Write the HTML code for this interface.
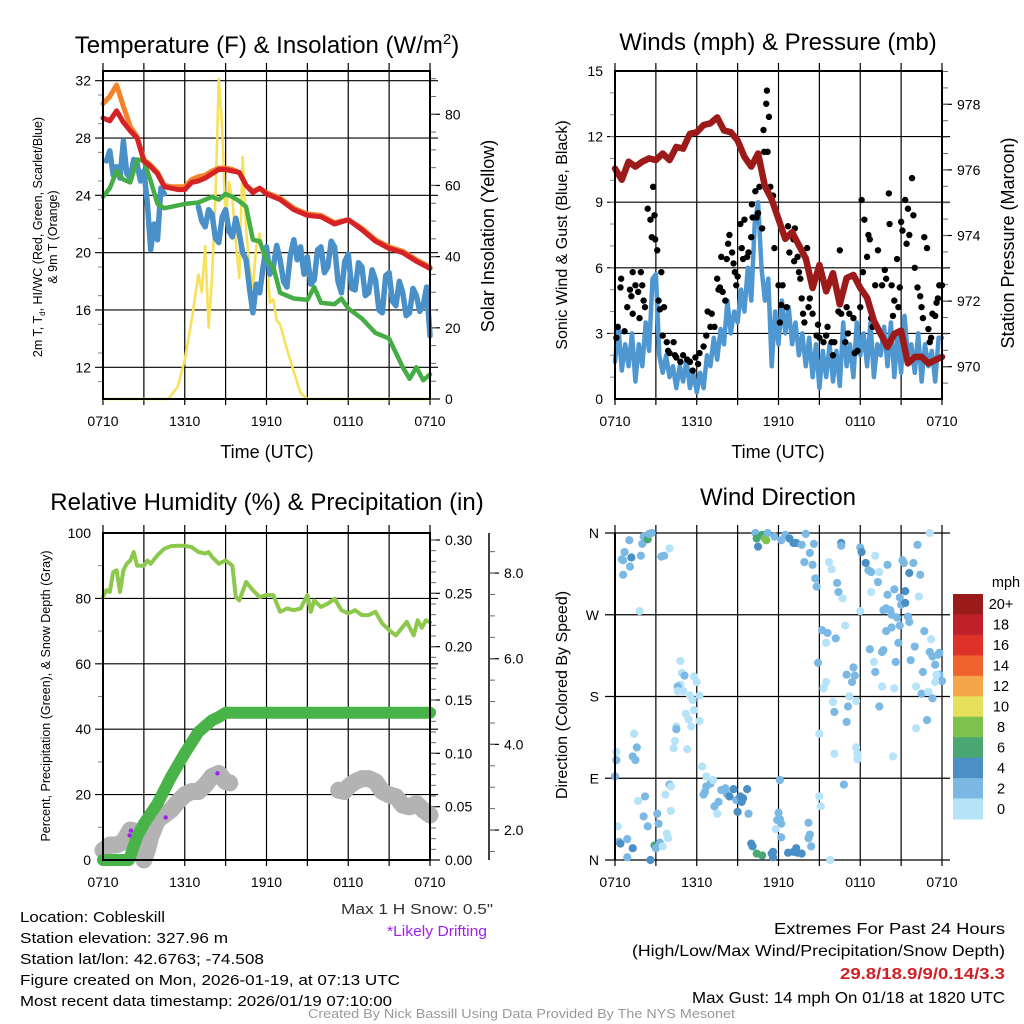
<!DOCTYPE html>
<html><head><meta charset="utf-8"><style>
html,body{margin:0;padding:0;background:#fff;}
svg{display:block;font-family:"Liberation Sans",sans-serif;}
</style></head><body>
<svg id="chart" width="1024" height="1024" viewBox="0 0 1024 1024" xmlns="http://www.w3.org/2000/svg">
<rect width="1024" height="1024" fill="#fff"/>
<g id="layer"></g>
<g font-size="24" fill="#000" text-anchor="middle">
<text x="267" y="53">Temperature (F) &amp; Insolation (W/m<tspan dy="-9" font-size="15">2</tspan><tspan dy="9">)</tspan></text>
<text x="778" y="50">Winds (mph) &amp; Pressure (mb)</text>
<text x="267" y="510">Relative Humidity (%) &amp; Precipitation (in)</text>
<text x="778" y="505">Wind Direction</text>
</g>
<g font-size="18" text-anchor="middle">
<text x="267" y="458">Time (UTC)</text>
<text x="778" y="458">Time (UTC)</text>
<text transform="translate(494,236) rotate(-90)">Solar Insolation (Yellow)</text>
<text transform="translate(1014,243) rotate(-90)">Station Pressure (Maroon)</text>
<text font-size="16" transform="translate(567,235) rotate(-90)">Sonic Wind &amp; Gust (Blue, Black)</text>
<text font-size="16" transform="translate(567,695) rotate(-90)">Direction (Colored By Speed)</text>
<text font-size="12.5" transform="translate(42,237) rotate(-90)">2m T, T<tspan font-size="8" dy="3">d</tspan><tspan dy="-3">, HI/WC (Red, Green, Scarlet/Blue)</tspan></text>
<text font-size="12.5" transform="translate(57,237) rotate(-90)">&amp; 9m T (Orange)</text>
<text font-size="12.5" transform="translate(50,696) rotate(-90)">Percent, Precipitation (Green), &amp; Snow Depth (Gray)</text>
</g>
<g font-size="14.5">
<text x="20" y="922" textLength="145" lengthAdjust="spacingAndGlyphs">Location: Cobleskill</text>
<text x="20" y="943" textLength="208" lengthAdjust="spacingAndGlyphs">Station elevation: 327.96 m</text>
<text x="20" y="964" textLength="244" lengthAdjust="spacingAndGlyphs">Station lat/lon: 42.6763; -74.508</text>
<text x="20" y="985" textLength="380" lengthAdjust="spacingAndGlyphs">Figure created on Mon, 2026-01-19, at 07:13 UTC</text>
<text x="20" y="1006" textLength="372" lengthAdjust="spacingAndGlyphs">Most recent data timestamp: 2026/01/19 07:10:00</text>
<text x="341" y="914" fill="#333" textLength="152" lengthAdjust="spacingAndGlyphs">Max 1 H Snow: 0.5"</text>
<text x="387" y="936" fill="#a020f0" textLength="100" lengthAdjust="spacingAndGlyphs">*Likely Drifting</text>
<text x="774" y="934" font-size="16" textLength="231" lengthAdjust="spacingAndGlyphs">Extremes For Past 24 Hours</text>
<text x="632" y="956" font-size="16" textLength="373" lengthAdjust="spacingAndGlyphs">(High/Low/Max Wind/Precipitation/Snow Depth)</text>
<text x="840" y="979" font-size="16" font-weight="bold" fill="#d02027" textLength="165" lengthAdjust="spacingAndGlyphs">29.8/18.9/9/0.14/3.3</text>
<text x="692" y="1003" font-size="16" textLength="313" lengthAdjust="spacingAndGlyphs">Max Gust: 14 mph On 01/18 at 1820 UTC</text>
<text x="308" y="1018" font-size="12.5" fill="#999" textLength="427" lengthAdjust="spacingAndGlyphs">Created By Nick Bassill Using Data Provided By The NYS Mesonet</text>
</g>
</svg>
<script>
// ---------- Panel 1 data (hours since 0710 UTC) ----------
const tempTimes = [0,0.5,1,1.5,2,2.5,3,3.5,4,4.5,5,5.5,6,6.5,7,7.5,8,8.5,9,9.5,10,10.5,11,11.5,12,13,14,15,16,17,18,19,20,21,22,23,24];
const tempRed = [29.4,29.2,29.9,29.1,28.5,28.0,26.4,26.0,25.5,24.6,24.5,24.4,24.4,24.9,25.0,25.2,25.5,25.8,25.8,25.7,25.6,24.7,24.2,24.5,24.1,23.7,23.0,22.6,22.5,22.0,22.3,21.6,20.8,20.3,20.0,19.4,18.9];
const temp9m = [30.4,30.9,31.7,30.2,28.8,28.1,26.5,26.1,25.6,24.7,24.6,24.6,24.6,25.1,25.3,25.4,25.7,25.9,25.9,25.8,25.6,24.7,24.3,24.5,24.2,23.8,23.1,22.7,22.6,22.1,22.3,21.7,20.9,20.4,20.1,19.5,19.0];
const dewTimes = [0,0.5,1,1.5,2,2.5,3,3.5,4,4.5,5,6,7,8,8.5,9,9.5,10,10.5,11,11.5,12,12.5,13,14,15,15.5,16,17,17.5,18,19,20,21,22,22.5,23,23.5,24];
const dewPoint = [23.9,24.5,25.7,25.1,24.9,26.5,26.4,25.0,23.4,23.1,23.2,23.4,23.5,23.9,23.7,24.1,23.9,23.6,23.2,20.9,20.8,19.5,19.0,17.2,16.8,16.7,17.6,16.5,16.4,16.8,16.1,15.4,14.4,14.0,12.0,11.2,12.0,11.1,11.5];
const wcTimes = [0.25,0.5,0.75,1,1.25,1.5,1.75,2,2.25,2.5,2.75,3,3.25,3.5,3.75,4,4.25,4.5,null,7,7.25,7.5,7.75,8,8.25,8.5,8.75,9,9.25,9.5,9.75,10,10.25,10.5,10.75,11,11.25,11.5,11.75,12,12.25,12.5,12.75,13,13.25,13.5,13.75,14,14.25,14.5,14.75,15,15.25,15.5,15.75,16,16.25,16.5,16.75,17,17.25,17.5,17.75,18,18.25,18.5,18.75,19,19.25,19.5,19.75,20,20.25,20.5,20.75,21,21.25,21.5,21.75,22,22.25,22.5,22.75,23,23.25,23.5,23.75,24];
const windChill = [26.4,27.1,25.4,26.0,25.2,27.8,25.5,25.2,26.5,26.2,25.0,25.7,23.5,20.2,22.0,20.9,24.5,24.1,null,23.2,22.2,21.8,23.0,22.7,21.0,20.7,22.5,23.0,21.5,21.1,22.4,21.3,20.0,19.5,17.5,15.8,17.8,17.2,19.0,20.4,18.5,19.0,20.5,19.5,18.0,17.6,19.8,20.9,19.5,20.4,18.5,19.7,17.8,18.1,20.2,20.4,18.6,19.0,20.8,20.4,18.0,17.2,19.4,19.9,17.5,17.4,19.3,19.0,17.0,17.2,18.8,18.1,16.0,15.8,18.4,18.6,16.6,16.3,18.0,17.2,15.6,15.8,17.5,17.0,15.9,16.3,17.6,14.2];
const insolTimes = [0,4.8,5.0,5.5,6,6.5,7,7.25,7.5,7.75,8,8.25,8.5,8.75,9,9.25,9.5,9.75,10,10.25,10.5,10.75,11,11.25,11.5,11.75,12,12.25,12.5,12.75,13,13.5,14,14.5,15,24];
const insolation = [0,0,1,3.5,11,22,35,30,43,20,34,56,90,76,50,61,56,44,34,68,48,37,31.5,43,46.5,39,43,27,28,22,21,14,7.7,1.6,0,0];
// ---------- Panel 2 data ----------
const presTimes = [0,0.5,1,1.5,2,2.5,3,3.5,4,4.5,5,5.5,6,6.5,7,7.5,8,8.5,9,9.5,10,10.5,11,11.5,12,12.5,13,13.5,14,14.5,15,15.5,16,16.5,17,17.5,18,18.5,19,19.5,20,20.5,21,21.5,22,22.5,23,23.5,24];
const pressure = [976.04,975.7,976.25,976.1,976.25,976.35,976.3,976.5,976.3,976.7,976.65,977.1,977.15,977.37,977.42,977.6,977.2,977.15,976.9,976.4,976.1,976.5,975.5,975.1,974.5,973.9,974.1,973.7,973.3,972.4,973.1,972.3,972.85,971.9,972.7,972.8,972.4,972.1,971.4,971.0,970.6,971.0,971.1,970.1,970.3,970.3,970.1,970.2,970.3];
const windSpeed = [1.7,3.3,1.3,2.5,1.5,3,0.8,2.5,1.5,3.5,2.2,5.5,5.7,2,1.2,2,1,1.5,0.5,1.5,0.8,1.8,0.5,1.2,0.3,1.2,0.5,2,1.5,2.8,1.8,3.2,2.5,4.5,3,4,3.5,5,4,6,4.5,8,9,6,4.5,5.5,1.5,4,2.5,4.5,3,4.2,2.5,3.5,2,3,1.5,2.8,1,2.5,0.5,2.2,1,2.5,0.8,2.2,0.6,3.5,1.5,2.5,1,3.5,2,3,1.5,3.5,1,2.5,2,3.3,1.5,3.5,1,3,1.2,3.8,2,2.5,1.2,3,0.8,2.5,1.5,2.2,0.8,2.8,2.8];
const gustTimes = [0.1,0.2,0.4,0.45,0.9,0.7,1.2,1.1,1.5,1.7,1.3,1.3,1.8,1.9,2.0,2.1,2.2,2.4,2.6,2.7,2.8,2.9,2.95,3.1,3.2,3.3,3.4,3.6,3.5,3.8,3.9,4.0,4.3,4.4,4.5,4.8,5.0,5.3,5.5,5.7,5.9,6.1,6.2,6.5,6.7,6.8,7.0,7.1,7.3,7.5,7.6,7.7,7.9,8.1,7.8,8.2,8.3,8.4,8.6,8.7,8.8,8.9,9.0,9.2,9.3,9.4,9.5,9.7,9.8,10.0,10.05,10.1,10.3,10.4,10.5,10.6,10.8,10.9,10.95,11.1,11.15,11.2,11.3,11.4,11.6,11.7,12.0,12.1,12.2,12.3,12.6,12.7,12.8,13.1,13.2,13.15,13.4,13.5,13.6,13.7,13.8,13.9,14.1,14.2,14.3,14.5,14.8,14.9,15.0,15.3,15.5,15.6,15.9,16.0,16.1,16.5,16.4,16.6,16.9,17.0,17.1,17.2,17.5,17.6,17.8,18.0,18.1,18.2,18.3,18.5,18.6,18.7,18.8,18.9,19.1,19.3,19.6,19.8,19.9,20.1,20.15,20.3,20.4,20.5,20.7,20.8,20.9,21.0,21.1,21.3,21.4,21.5,21.6,21.8,21.9,22.0,22.2,22.4,22.5,22.6,22.7,22.9,23.0,23.1,23.2,23.3,23.5,23.6,23.7,23.8,24.0];
const gustSpeed = [2.8,3.3,5.1,5.5,4.2,3.1,4.7,5.0,5.2,4.9,3.9,5.8,3.7,5.8,5.2,4.5,4.2,8.7,8.2,7.4,9.7,8.4,7.3,6.8,4.5,4.1,5.8,4.2,2.9,2.6,2.2,2.1,2.6,2.0,1.9,1.7,2.0,1.8,1.7,1.3,1.9,1.6,2.1,2.4,2.9,4.0,3.3,3.9,3.3,5.5,5.0,5.1,4.9,4.5,6.5,6.4,7.1,7.5,6.7,6.2,5.8,5.2,5.6,8.0,6.9,6.4,8.2,6.5,6.7,7.4,8.9,8.3,9.5,8.3,8.5,9.7,7.8,12.3,11.3,13.5,14.1,11.3,12.9,9.7,9.3,6.9,5.2,3.5,4.3,5.2,4.2,7.9,6.7,7.3,7.8,6.3,6.5,5.8,5.5,4.6,3.9,3.5,6.9,4.2,4.6,3.9,2.9,3.4,2.8,2.6,2.9,3.3,2.6,2.0,2.6,6.8,4.0,3.9,2.6,4.2,3.0,3.9,3.7,2.1,2.2,4.2,9.1,5.8,8.2,6.5,7.5,7.3,3.7,3.3,5.2,6.8,5.2,5.9,5.5,9.4,8.0,5.2,3.8,4.5,6.4,4.2,5.1,8.1,7.7,9.1,7.1,8.7,7.5,10.1,8.4,6.0,5.1,4.7,4.2,3.7,7.4,6.9,3.2,2.6,2.8,3.9,3.8,4.4,4.6,5.2,5.2];
// ---------- Panel 3 data ----------
const rhTimes = [0,0.25,0.5,0.75,1,1.25,1.5,1.75,2,2.25,2.5,3,3.25,3.5,4,4.5,5,5.5,6,6.5,7,7.5,7.75,8,8.5,9,9.5,9.75,10,10.5,11,11.5,12,12.5,13,13.5,14,14.5,15,15.25,15.5,16,16.5,17,17.5,18,18.5,19,19.5,20,20.5,21,21.5,22.3,22.8,23.1,23.4,23.7,24];
const relHumidity = [80.4,82.5,82,88,88.6,82,88.6,90.6,91.6,94.2,90,90,91.6,90.6,93.2,95.2,96,96.1,96.1,95.7,94.2,93.7,94.2,92.7,90.6,91.6,90,80.4,79.4,85,82.5,80.4,81,81,75.9,76.9,76.4,76.9,81,75.9,79.4,77.4,78.4,79.9,76.4,75.4,76.4,74.9,74.9,75.9,72.3,70.3,68.7,72.8,68.7,73.3,71,73.3,72.7];
const precipTimes = [0,1,1.9,2.5,3,4,5,6,7,8,8.5,9,24];
const precip = [0,0,0,0.022,0.034,0.053,0.078,0.1,0.12,0.131,0.134,0.138,0.138];
const snowTimes = [0,0.5,1,1.5,2,2.5,2.75,3,3.25,3.5,3.8,4,4.5,5,5.5,6,6.5,7,7.5,8,8.5,9,9.3,null,17.3,17.7,18,18.5,19,19.5,20,20.5,21,21.5,22,22.5,23,23.5,24];
const snowDepth = [1.53,1.65,1.65,1.73,2.0,1.96,1.53,1.3,1.53,1.84,2.08,2.23,2.35,2.47,2.66,2.82,2.9,2.9,3.05,3.25,3.32,3.13,3.1,null,2.93,2.9,3.01,3.13,3.2,3.2,3.13,2.9,2.82,2.78,2.58,2.54,2.62,2.47,2.35];
const driftTimes = [1.95,2.05,4.6,8.4];
const driftPct = [7.5,9,13,26.5];
// ---------- Panel 4 data ----------
const dirTimes = [0.6,0.5,1.05,0.7,1.2,1.1,0.6,1.9,2.0,2.1,2.4,2.7,2.5,3.4,3.6,4.0,1.8,10.3,10.5,10.4,10.8,11.0,11.1,11.2,11.7,12.2,12.5,12.8,13.1,13.3,13.7,14.0,14.3,14.6,13.9,14.5,14.7,14.8,15.7,15.9,16.3,16.4,16.7,16.6,16.6,18.0,18.1,18.4,18.6,18.8,19.1,19.3,19.4,18.8,20.0,20.0,20.5,20.9,21.3,21.2,21.1,21.6,21.9,22.2,22.4,22.3,23.1,18.0,19.7,19.9,20.2,20.3,20.7,21.0,21.3,21.5,21.6,20.9,20.3,19.9,20.8,18.7,19.7,19.6,22.0,22.7,23.2,23.1,23.3,23.7,23.8,23.5,23.8,24.0,23.6,23.5,22.6,21.7,20.6,19.0,19.1,19.6,20.5,22.1,22.5,23.0,23.3,19.4,22.1,22.9,20.4,16.9,16.2,15.6,15.5,15.2,14.9,15.3,15.5,16.0,16.1,17.0,17.5,17.6,17.4,17.2,17.7,17.1,17.0,15.0,16.1,17.7,17.8,17.8,16.8,15.0,15.1,4.8,4.9,5.1,4.8,4.6,5.0,4.6,5.5,5.8,6.0,6.2,5.7,5.8,5.2,5.4,5.6,6.2,4.5,4.5,4.4,4.3,5.3,1.4,1.6,1.3,1.5,0.1,0.1,0.0,6.4,6.7,7.0,7.2,6.6,6.5,6.7,7.6,7.3,7.5,7.8,8.1,8.2,8.4,8.7,8.9,9.2,9.4,9.7,9.3,9.0,9.8,4.0,4.1,3.7,4.1,2.2,1.7,2.1,2.4,3.1,3.2,2.9,3.0,3.3,3.5,3.8,3.9,0.2,0.3,0.4,0.9,1.3,0.9,2.6,10.0,10.1,10.4,10.8,11.5,11.6,11.6,12.7,13.1,13.3,13.4,13.7,14.4,14.2,14.3,14.2,12.2,12.1,11.9,12.0,11.8,12.2,12.1,15.8];
const dirDegrees = [330,331,352,339,333,323,314,335,348,356,353,360,359,334,335,343,274,360,345,354,358,354,352,360,356,352,358,354,349,349,347,359,338,348,328,325,310,301,328,320,305,295,288,349,346,344,339,327,319,317,335,306,317,295,325,292,298,289,296,327,330,316,327,347,314,290,360,274,275,277,275,270,267,281,283,268,262,258,256,252,239,232,231,229,235,252,243,229,224,226,228,215,204,197,204,196,207,220,218,218,207,191,189,191,183,185,178,169,145,154,114,258,244,250,239,253,217,189,196,174,163,204,212,203,196,180,175,169,152,139,117,124,117,111,83,70,59,219,206,203,193,191,186,186,181,202,196,181,176,165,161,155,147,153,147,144,131,123,122,139,124,114,110,119,110,92,103,92,84,88,75,72,81,64,59,51,77,79,73,70,78,66,70,68,78,64,53,51,83,81,72,54,70,65,48,37,51,40,16,13,19,15,29,24,37,20,18,23,13,3,0,18,15,7,5,7,9,3,8,9,13,8,7,15,24,28,41,40,45,44,52,34,25,88,0];
const dirSpeedClass = [2,2,2,2,3,2,2,2,2,2,4,2,2,2,2,1,1,2,3,4,4,5,5,2,2,2,2,3,3,3,2,2,2,2,2,2,2,2,1,1,2,2,1,3,2,2,3,3,2,2,1,2,1,1,2,2,2,2,3,2,2,3,2,2,2,1,1,1,2,2,2,2,2,2,3,2,2,2,2,2,2,2,2,2,2,2,1,2,2,2,2,2,2,2,1,1,2,2,2,1,2,1,1,1,2,1,2,2,1,2,1,1,2,2,1,2,2,1,1,1,2,2,2,2,2,1,1,2,2,1,1,1,1,1,2,1,1,1,1,2,1,2,1,1,1,1,1,1,1,1,1,1,1,1,1,2,1,1,1,1,2,2,2,1,2,2,1,1,2,1,2,2,2,2,2,1,2,2,2,3,3,2,3,3,3,3,3,2,2,1,1,1,2,1,2,2,2,2,4,2,2,1,1,1,1,2,3,2,3,2,3,3,3,4,4,3,3,3,3,3,3,3,3,2,2,2,2,2,2,2,2,1,2,2,1];
const speedColors = ["#b6e3f8","#7bb9e4","#4a8fc6","#4aa771","#7cc24c","#e6e05a","#f6a64a","#f0622e","#de3128","#c0202a","#9b1a1a"];
const speedLabels = ["0","2","4","6","8","10","12","14","16","18","20+"];
const hourLabels = ["0710","1310","1910","0110","0710"];
const tempTicks = [12,16,20,24,28,32];
const insolTicks = [0,20,40,60,80];
const windTicks = [0,3,6,9,12,15];
const presTicks = [970,972,974,976,978];
const rhTicks = [0,20,40,60,80,100];
const precipTicks = [0.00,0.05,0.10,0.15,0.20,0.25,0.30];
const snowTicks = [2,4,6,8];
const dirTicks = [[0,"N"],[90,"E"],[180,"S"],[270,"W"],[360,"N"]];

const NS="http://www.w3.org/2000/svg";
const L=document.getElementById('layer');
function mk(tag,attrs,parent){const e=document.createElementNS(NS,tag);for(const k in attrs)e.setAttribute(k,attrs[k]);(parent||L).appendChild(e);return e;}
function txt(x,y,s,anchor,size,parent){const e=mk('text',{x:x,y:y,'text-anchor':anchor,'font-size':size},parent);e.textContent=s;return e;}

const P1={x0:103,x1:430,y0:71,y1:399}, P2={x0:615,x1:942,y0:71,y1:399}, P3={x0:103,x1:430,y0:533,y1:860}, P4={x0:615,x1:942,y0:533,y1:860};
function xs(P,t){return P.x0+t/24*(P.x1-P.x0);}
const yT=v=>80.7+(32-v)*14.33, yI=v=>399-v*3.559;
const yW=v=>399-v*21.87, yP=v=>366.7-(v-970)*32.8;
const yRH=v=>860-v*3.27, yPr=v=>860-v*1066.7, ySn=v=>915.7-v*42.83;
const yD=v=>860-v*(327/360);

function pathFrom(P,times,vals,ys){let d='',pen=false;for(let i=0;i<times.length;i++){if(times[i]===null||vals[i]===null){pen=false;continue;}d+=(pen?'L':'M')+xs(P,times[i]).toFixed(1)+','+ys(vals[i]).toFixed(1);pen=true;}return d;}

function frame(P,name){
  const g=mk('g',{});
  
  
  for(let h=0;h<=8;h++){const x=P.x0+h*(P.x1-P.x0)/8;mk('line',{x1:x,y1:P.y0-8,x2:x,y2:P.y1+6,stroke:'#000','stroke-width':1.2},g);}
  for(let i=0;i<hourLabels.length;i++){const t=txt(P.x0+i*(P.x1-P.x0)/4,P.y1+27,hourLabels[i],'middle',14,g);
    
    }
  return g;
}
function border(P,name){const r=mk('rect',{x:P.x0,y:P.y0,width:P.x1-P.x0,height:P.y1-P.y0,fill:'none',stroke:'#000','stroke-width':2});
  
  }
function hgrid(P,ys,vals){for(const v of vals){mk('line',{x1:P.x0-8,y1:ys(v),x2:P.x1+8,y2:ys(v),stroke:'#000','stroke-width':1.1});}}
function leftTicks(P,ys,vals,fmt,name){for(const v of vals){const t=txt(P.x0-12,ys(v)+5,fmt(v),'end',14);
  
  }}
function rightTicks(x,ys,vals,fmt,name,minor){for(const v of vals){mk('line',{x1:x,y1:ys(v),x2:x+10,y2:ys(v),stroke:'#000','stroke-width':1.2});const t=txt(x+15,ys(v)+5,fmt(v),'start',14);
  
  }
  if(minor)for(const v of minor){mk('line',{x1:x,y1:ys(v),x2:x+6,y2:ys(v),stroke:'#666','stroke-width':1});}}
function line(d,color,w,name){const p=mk('path',{d:d,fill:'none',stroke:color,'stroke-width':w,'stroke-linejoin':'round','stroke-linecap':'round'});
  
  return p;}

// ===== Panel 1 =====
frame(P1,'temp');
hgrid(P1,yT,tempTicks);
leftTicks(P1,yT,tempTicks,v=>v,'temp-y-tick');
const m1=[];for(let v=11;v<=33;v+=2)if(v>=10&&v<=32.6)m1.push(v);
for(const v of m1)mk('line',{x1:P1.x0-5,y1:yT(v),x2:P1.x0,y2:yT(v),stroke:'#888'});
const im=[];for(let v=5;v<=90;v+=5)im.push(v);
rightTicks(P1.x1,yI,insolTicks,v=>v,'insolation-y-tick',im);
line(pathFrom(P1,insolTimes,insolation,yI),'#f7e15a',2.6,'insolation-line');
line(pathFrom(P1,wcTimes,windChill,yT),'#4a90c8',5.5,'windchill-line');
line(pathFrom(P1,dewTimes,dewPoint,yT),'#45ad45',4.5,'dewpoint-line');
line(pathFrom(P1,tempTimes,temp9m,yT),'#f58229',5,'temp-9m-line');
line(pathFrom(P1,tempTimes,tempRed,yT),'#d42227',5,'temp-2m-line');
border(P1,'temp');

// ===== Panel 2 =====
frame(P2,'winds');
hgrid(P2,yW,windTicks.slice(1,5));
leftTicks(P2,yW,windTicks,v=>v,'wind-y-tick');
for(let v=1;v<15;v++)mk('line',{x1:P2.x0-5,y1:yW(v),x2:P2.x0,y2:yW(v),stroke:'#888'});
const pm=[];for(let v=969.5;v<=979;v+=0.5)pm.push(v);
rightTicks(P2.x1,yP,presTicks,v=>v,'pressure-y-tick',pm);
const wsT=windSpeed.map((_,i)=>i*0.25);
line(pathFrom(P2,wsT,windSpeed,yW),'#4f97d1',4.5,'wind-speed-line');
for(let i=0;i<gustTimes.length;i++){const c=mk('circle',{cx:xs(P2,gustTimes[i]),cy:yW(gustSpeed[i]),r:3.2,fill:'#000'});
  
  }
line(pathFrom(P2,presTimes,pressure,yP),'#9c1a1a',6.5,'pressure-line');
border(P2,'winds');

// ===== Panel 3 =====
frame(P3,'humidity');
hgrid(P3,yRH,[20,40,60,80]);
leftTicks(P3,yRH,rhTicks,v=>v,'rh-y-tick');
for(let v=10;v<100;v+=20)mk('line',{x1:P3.x0-5,y1:yRH(v),x2:P3.x0,y2:yRH(v),stroke:'#888'});
const prm=[];for(let v=0.01;v<0.305;v+=0.01)prm.push(v);
rightTicks(P3.x1,yPr,precipTicks,v=>v.toFixed(2),'precip-y-tick',prm);
mk('line',{x1:489,y1:533,x2:489,y2:860,stroke:'#000','stroke-width':1.5});
const sm=[];for(let v=1.5;v<=8.9;v+=0.5)sm.push(v);
rightTicks(489,ySn,snowTicks,v=>v.toFixed(1),'snow-y-tick',sm);
line(pathFrom(P3,snowTimes,snowDepth,ySn),'#b3b3b3',17,'snow-depth-line');
line(pathFrom(P3,precipTimes,precip,yPr),'#48b348',12,'precip-line');
for(let i=0;i<driftTimes.length;i++){const c=mk('circle',{cx:xs(P3,driftTimes[i]),cy:yRH(driftPct[i]),r:2.2,fill:'#a020f0'});
  
  }
line(pathFrom(P3,rhTimes,relHumidity,yRH),'#8cc84b',4,'rh-line');
border(P3,'humidity');

// ===== Panel 4 =====
frame(P4,'direction');
for(const [d,l] of dirTicks){mk('line',{x1:P4.x0-10,y1:yD(d),x2:P4.x1+8,y2:yD(d),stroke:'#000','stroke-width':1.2});const t=txt(P4.x0-16,yD(d)+5,l,'end',14);
  
  }
for(let i=0;i<dirTimes.length;i++){const c=mk('circle',{cx:xs(P4,dirTimes[i]),cy:yD(dirDegrees[i]),r:4.1,fill:speedColors[dirSpeedClass[i]-1]});
  
  }
mk('line',{x1:P4.x0,y1:P4.y0,x2:P4.x0,y2:P4.y1,stroke:'#000','stroke-width':2});
// colorbar
const cb=mk('g',{});


const cbh=(819-594)/speedColors.length;
for(let i=0;i<speedColors.length;i++){const k=speedColors.length-1-i;const r=mk('rect',{x:953,y:594+i*cbh,width:30,height:cbh+0.5,fill:speedColors[k]},cb);
  
  
  const t=txt(1001,594+i*cbh+cbh/2+5,speedLabels[k],'middle',14.5,cb);
  
  }
const mph=txt(1006,587,'mph','middle',14.5,cb);


</script>
</body></html>
